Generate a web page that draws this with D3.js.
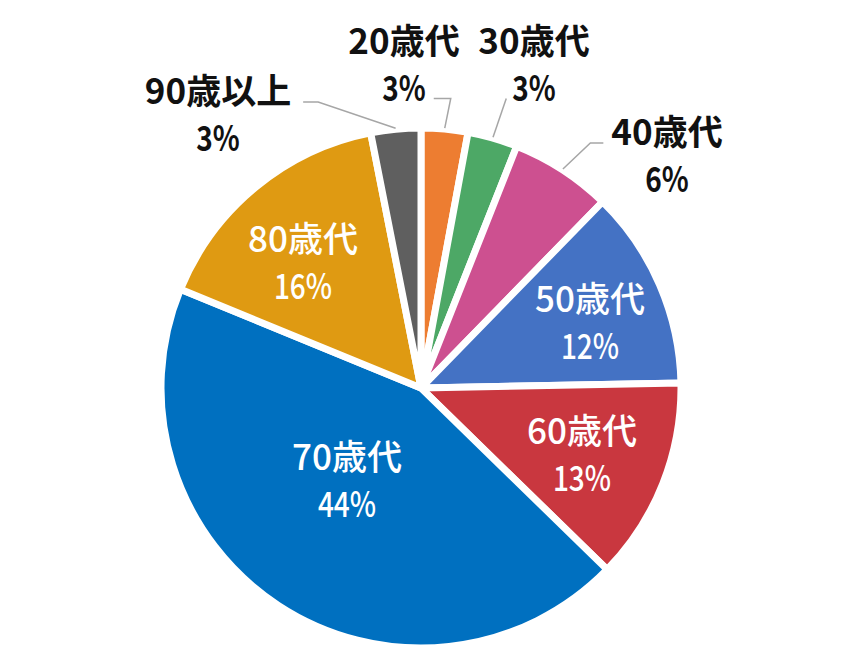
<!DOCTYPE html>
<html>
<head>
<meta charset="utf-8">
<script src="https://cdn.jsdelivr.net/npm/d3@7/dist/d3.min.js"></script>
<style>
  html, body { margin: 0; padding: 0; background: #ffffff; }
  svg { display: block; }
</style>
</head>
<body>
<svg id="chart" width="865" height="670"></svg>
<script>
// ---- data ----
const categories = ["20歳代", "30歳代", "40歳代", "50歳代", "60歳代", "70歳代", "80歳代", "90歳以上"];
const values = [2.9, 3.1, 6.3, 12.4, 12.6, 43.9, 15.7, 3.1];
const percentLabels = ["3%", "3%", "6%", "12%", "13%", "44%", "16%", "3%"];
const colors = ["#ED7D31", "#4DA866", "#CD5090", "#4472C4", "#C9373F", "#0070C0", "#DF9A12", "#5F5F5F"];

// ---- layout ----
const cx = 421, cy = 388, R = 260;
const inside = [false, false, false, true, true, true, true, false];
// label block centre offsets from pie centre
const labelOffset = [[-17, -324], [113, -324], [246, -233], [169, -66], [161, 66], [-74, 92], [-118, -126], [-203, -274]];
// leader config for outside labels
const leaderCfg = {
  0: { line: 1, side: "right", gap: 8, hlen: 17 },
  1: { line: 1, side: "left", gap: 6, hlen: 0 },
  2: { line: 0, side: "left", gap: 8, hlen: 13 },
  7: { line: 0, side: "right", gap: 12, hlen: 15 }
};
const fontSize = 35, lineGap = 46.5;
const fontFamily = "'Noto Sans CJK JP', 'Noto Sans', sans-serif";

const svg = d3.select("#chart");
const g = svg.append("g").attr("transform", `translate(${cx},${cy})`);

const pie = d3.pie().sort(null).value(d => d.v).startAngle(0).endAngle(2 * Math.PI);
const data = categories.map((c, i) => ({ c, v: values[i], p: percentLabels[i], i }));
const arcs = pie(data);
const arc = d3.arc().innerRadius(0).outerRadius(R);

g.selectAll("path.slice")
  .data(arcs)
  .join("path")
  .attr("class", "slice")
  .attr("d", arc)
  .attr("fill", d => colors[d.data.i])
  .attr("stroke", "#ffffff")
  .attr("stroke-width", 7)
  .attr("stroke-linejoin", "miter");

function drawLine(parent, str, x0, baseline, fill, weight) {
  const t = parent.append("text")
    .text(str)
    .attr("x", x0).attr("y", baseline)
    .attr("text-anchor", "middle")
    .attr("font-family", fontFamily)
    .attr("font-size", fontSize)
    .attr("font-weight", weight)
    .attr("fill", fill);
  let w = t.node().getComputedTextLength();
  if (str.includes("%")) {
    w = w * 0.8;
    t.attr("textLength", w).attr("lengthAdjust", "spacingAndGlyphs");
  }
  return { left: x0 - w / 2, right: x0 + w / 2, baseline };
}

const labelLayer = g.append("g");

arcs.forEach(a => {
  const i = a.data.i;
  const [lx, ly] = labelOffset[i];
  const fill = inside[i] ? "#ffffff" : "#111111";
  const weight = inside[i] ? 500 : 700;
  const l1 = drawLine(labelLayer, a.data.c, lx, ly - 10, fill, weight);
  const l2 = drawLine(labelLayer, a.data.p, lx, ly - 10 + lineGap, fill, weight);
  if (!inside[i]) {
    const cfg = leaderCfg[i];
    const ln = cfg.line === 0 ? l1 : l2;
    const mid = (a.startAngle + a.endAngle) / 2;
    const rr = R + 1;
    const p0 = [rr * Math.sin(mid), -rr * Math.cos(mid)];
    const yA = ln.baseline - 2;
    const xEnd = cfg.side === "right" ? ln.right + cfg.gap : ln.left - cfg.gap;
    const xElbow = cfg.side === "right" ? xEnd + cfg.hlen : xEnd - cfg.hlen;
    g.append("path")
      .attr("d", d3.line()([p0, [xElbow, yA], [xEnd, yA]]))
      .attr("fill", "none")
      .attr("stroke", "#A6A6A6")
      .attr("stroke-width", 1.5);
  }
});
</script>
</body>
</html>
